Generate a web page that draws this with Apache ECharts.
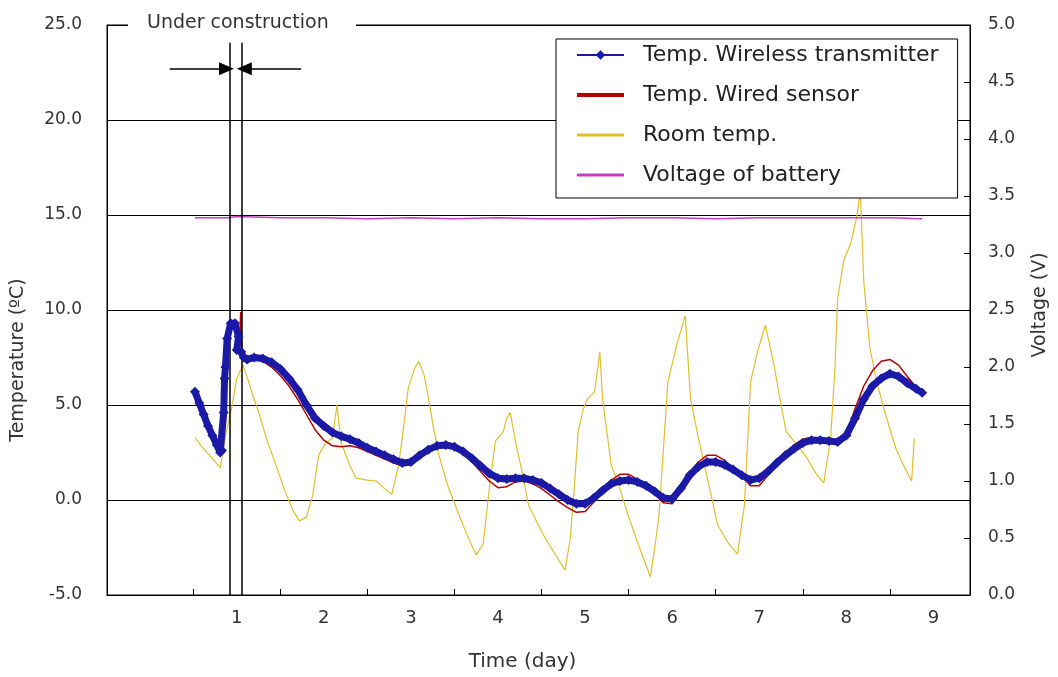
<!DOCTYPE html>
<html>
<head>
<meta charset="utf-8">
<script src="https://cdn.jsdelivr.net/npm/echarts@6/dist/echarts.min.js"></script>
<style>
  html, body { margin: 0; background: #fff; }
  #chart { width: 1058px; height: 677px; }
</style>
</head>
<body>
<div id="chart"></div>
<script>
// time in days, temperatures in ºC, voltage in V
const wirelessDays = [0.52, 0.57, 0.62, 0.67, 0.72, 0.77, 0.81, 0.83, 0.85, 0.86, 0.87, 0.89, 0.93, 0.98, 1.02, 1.0, 1.05, 1.08, 1.12,
  1.2, 1.3, 1.4, 1.5, 1.6, 1.7, 1.8, 1.9, 2.0, 2.1, 2.2, 2.3, 2.4, 2.5, 2.6, 2.7, 2.8, 2.9, 3.0, 3.1, 3.2, 3.3, 3.4, 3.5, 3.6, 3.7, 3.8, 3.9,
  4.0, 4.1, 4.2, 4.3, 4.4, 4.5, 4.6, 4.7, 4.8, 4.9, 5.0, 5.1, 5.2, 5.3, 5.4, 5.5, 5.6, 5.7, 5.8, 5.9,
  6.0, 6.1, 6.2, 6.3, 6.4, 6.5, 6.6, 6.7, 6.8, 6.9, 7.0, 7.1, 7.2, 7.3, 7.4, 7.5, 7.6, 7.7, 7.8, 7.9,
  8.0, 8.1, 8.2, 8.3, 8.4, 8.5, 8.6, 8.7, 8.8, 8.87];
const wirelessTemp = [5.7, 5.1, 4.5, 3.9, 3.4, 2.9, 2.5, 2.6, 4.6, 6.4, 7.0, 8.5, 9.3, 9.3, 8.6, 7.9, 7.8, 7.5, 7.4,
  7.5, 7.45, 7.25, 6.9, 6.4, 5.8, 5.0, 4.3, 3.9, 3.55, 3.35, 3.2, 3.0, 2.75, 2.55, 2.35, 2.15, 1.95, 2.0, 2.35, 2.65, 2.85, 2.9, 2.8, 2.55, 2.2, 1.8, 1.4,
  1.15, 1.1, 1.15, 1.15, 1.05, 0.9, 0.6, 0.3, 0.0, -0.2, -0.2, 0.1, 0.5, 0.85, 1.0, 1.05, 0.95, 0.75, 0.45, 0.1,
  0.05, 0.6, 1.3, 1.75, 2.0, 2.0, 1.85, 1.6, 1.3, 1.05, 1.15, 1.5, 1.95, 2.35, 2.7, 3.0, 3.15, 3.15, 3.1, 3.05,
  3.4, 4.3, 5.3, 6.0, 6.4, 6.65, 6.5, 6.15, 5.85, 5.65];

const wiredDays = [1.03, 1.045, 1.06, 1.1,
  1.2, 1.3, 1.4, 1.5, 1.6, 1.7, 1.8, 1.9, 2.0, 2.1, 2.2, 2.3, 2.4, 2.5, 2.6, 2.7, 2.8, 2.9, 3.0, 3.1, 3.2, 3.3, 3.4, 3.5, 3.6, 3.7, 3.8, 3.9,
  4.0, 4.1, 4.2, 4.3, 4.4, 4.5, 4.6, 4.7, 4.8, 4.9, 5.0, 5.1, 5.2, 5.3, 5.4, 5.5, 5.6, 5.7, 5.8, 5.9,
  6.0, 6.1, 6.2, 6.3, 6.4, 6.5, 6.6, 6.7, 6.8, 6.9, 7.0, 7.1, 7.2, 7.3, 7.4, 7.5, 7.6, 7.7, 7.8, 7.9,
  8.0, 8.1, 8.2, 8.3, 8.4, 8.5, 8.6, 8.7, 8.8, 8.87];
const wiredTemp = [7.6, 9.9, 7.5, 7.4,
  7.45, 7.3, 7.0, 6.55, 6.0, 5.3, 4.5, 3.7, 3.15, 2.85, 2.8, 2.85, 2.75, 2.55, 2.35, 2.15, 1.95, 1.8, 1.85, 2.25, 2.6, 2.85, 2.9, 2.8, 2.45, 2.0, 1.5, 1.0,
  0.65, 0.7, 0.95, 1.0, 0.85, 0.6, 0.25, -0.1, -0.4, -0.65, -0.6, -0.1, 0.5, 1.05, 1.35, 1.35, 1.1, 0.75, 0.3, -0.15,
  -0.2, 0.5, 1.4, 2.0, 2.35, 2.35, 2.1, 1.7, 1.25, 0.75, 0.75, 1.3, 1.95, 2.5, 2.9, 3.2, 3.3, 3.25, 3.15, 3.1,
  3.5, 4.8, 6.0, 6.8, 7.3, 7.4, 7.1, 6.5, 5.95, 5.7];

const roomDays = [0.52, 0.6, 0.7, 0.81, 0.88, 0.94, 1.0, 1.07, 1.11, 1.2, 1.26, 1.35, 1.45, 1.55, 1.65, 1.72, 1.8, 1.87, 1.94,
  2.02, 2.1, 2.15, 2.2, 2.3, 2.37, 2.5, 2.6, 2.7, 2.78, 2.86, 2.92, 2.97, 3.04, 3.09, 3.15, 3.2, 3.26, 3.32, 3.42, 3.55, 3.65, 3.75, 3.83, 3.91, 3.97,
  4.06, 4.1, 4.14, 4.2, 4.28, 4.35, 4.45, 4.54, 4.65, 4.77, 4.83, 4.88, 4.92, 4.98, 5.03, 5.11, 5.17, 5.2, 5.3, 5.4, 5.49, 5.6, 5.75, 5.8, 5.85, 5.95,
  6.06, 6.15, 6.21, 6.3, 6.37, 6.45, 6.52, 6.65, 6.75, 6.83, 6.9, 6.98, 7.07, 7.17, 7.25, 7.31, 7.45, 7.55, 7.65, 7.74, 7.82, 7.87, 7.9, 7.97,
  8.05, 8.12, 8.16, 8.2, 8.27, 8.35, 8.45, 8.57, 8.66, 8.75, 8.78];
const roomTemp = [3.3, 2.8, 2.3, 1.7, 3.6, 4.8, 6.4, 7.1, 6.6, 5.3, 4.5, 3.1, 1.85, 0.5, -0.6, -1.1, -0.9, 0.2, 2.35,
  3.0, 3.25, 5.0, 3.0, 1.8, 1.15, 1.05, 1.0, 0.6, 0.3, 1.85, 4.0, 5.9, 6.9, 7.3, 6.6, 5.4, 3.8, 2.4, 0.8, -0.75, -1.9, -2.9, -2.3, 1.0, 3.1,
  3.6, 4.3, 4.6, 3.1, 1.4, -0.25, -1.2, -2.0, -2.8, -3.7, -2.0, 0.9, 3.6, 4.8, 5.35, 5.7, 7.8, 5.35, 1.85, 0.6, -0.75, -2.2, -4.05, -2.5, -0.75, 6.2,
  8.3, 9.7, 5.35, 3.3, 1.85, 0.2, -1.3, -2.3, -2.85, -0.25, 6.2, 7.8, 9.2, 7.1, 5.0, 3.6, 2.8, 2.2, 1.4, 0.9, 3.25, 7.0, 10.6, 12.6,
  13.5, 14.9, 16.3, 11.5, 8.0, 6.2, 4.5, 2.7, 1.8, 1.0, 3.25];

const batteryDays = [0.52, 0.9, 1.0, 1.5, 2.0, 2.5, 3.0, 3.5, 4.0, 4.5, 5.0, 5.5, 6.0, 6.5, 7.0, 7.5, 8.0, 8.5, 8.87];
const batteryVolt = [3.31, 3.31, 3.32, 3.31, 3.31, 3.30, 3.31, 3.30, 3.31, 3.30, 3.30, 3.31, 3.31, 3.30, 3.31, 3.31, 3.31, 3.31, 3.30];

const seriesNames = ['Temp. Wireless transmitter', 'Temp. Wired sensor', 'Room temp.', 'Voltage of battery'];
const dayLabels = [1, 2, 3, 4, 5, 6, 7, 8, 9];
const dayTicks = [0.5, 1.5, 2.5, 3.5, 4.5, 5.5, 6.5, 7.5, 8.5];

// construction window and its arrows
const constructionWindow = [0.916, 1.053];
const arrowLeft = [0.23, 0.882];
const arrowRight = [1.739, 1.087];
const arrowTemp = 22.7;
const windowTop = 24.06;

const pairs = (xs, ys) => xs.map((x, i) => [x, ys[i]]);
const font = 'DejaVu Sans';

const chart = echarts.init(document.getElementById('chart'));

const blackLine = { color: '#000', width: 1.5, type: 'solid' };
const markData = [
  ...constructionWindow.map(d => [{ coord: [d, windowTop] }, { coord: [d, -5] }]),
  [{ coord: [arrowLeft[0], arrowTemp] }, { coord: [arrowLeft[1], arrowTemp], symbol: 'triangle', symbolSize: [13, 15] }],
  [{ coord: [arrowRight[0], arrowTemp] }, { coord: [arrowRight[1], arrowTemp], symbol: 'triangle', symbolSize: [13, 15] }]
];

chart.setOption({
  animation: false,
  backgroundColor: '#fff',
  textStyle: { fontFamily: font },
  grid: {
    left: 107, right: 84, top: 25, bottom: 80,
    show: true, borderColor: '#000', borderWidth: 1, backgroundColor: '#fff'
  },
  legend: {
    orient: 'vertical',
    left: 556, top: 39,
    padding: [5, 19, 12, 19],
    itemGap: 18,
    itemWidth: 47,
    itemHeight: 12,
    backgroundColor: '#fff',
    borderColor: '#000',
    borderWidth: 1,
    textStyle: { fontFamily: font, fontSize: 22, color: '#222', padding: [0, 0, 0, 14] },
    data: [
      { name: seriesNames[0], lineStyle: { width: 2 } },
      { name: seriesNames[1], lineStyle: { width: 4 }, itemStyle: { opacity: 0 } },
      { name: seriesNames[2], lineStyle: { width: 3 }, itemStyle: { opacity: 0 } },
      { name: seriesNames[3], lineStyle: { width: 3 }, itemStyle: { opacity: 0 } }
    ]
  },
  xAxis: {
    type: 'value',
    min: -0.49, max: 9.42,
    name: 'Time (day)',
    nameLocation: 'middle',
    nameGap: 57,
    nameTextStyle: { fontFamily: font, fontSize: 20, color: '#333', padding: [0, 32, 0, 0] },
    axisLine: { onZero: false, lineStyle: { color: '#000', width: 1 } },
    axisTick: { customValues: dayTicks, inside: true, length: 6, lineStyle: { color: '#000' } },
    axisLabel: { customValues: dayLabels, fontSize: 18, color: '#333', margin: 14, fontFamily: font },
    splitLine: { show: false }
  },
  yAxis: [
    {
      type: 'value',
      min: -5, max: 25, interval: 5,
      name: 'Temperature (ºC)',
      nameLocation: 'middle',
      nameRotate: 90,
      nameGap: 79,
      nameTextStyle: { fontFamily: font, fontSize: 19, color: '#333', padding: [0, 100, 0, 0] },
      axisLine: { show: true, onZero: false, lineStyle: { color: '#000' } },
      axisTick: { show: false },
      axisLabel: { formatter: v => v.toFixed(1), fontSize: 17, color: '#333', margin: 25, fontFamily: font },
      splitLine: { show: true, lineStyle: { color: '#000', width: 1.2 } }
    },
    {
      type: 'value',
      min: 0, max: 5, interval: 0.5,
      position: 'right',
      name: 'Voltage (V)',
      nameLocation: 'middle',
      nameRotate: 90,
      nameGap: 61,
      nameTextStyle: { fontFamily: font, fontSize: 19, color: '#333', padding: [0, 0, 0, 10] },
      axisLine: { show: true, onZero: false, lineStyle: { color: '#000' } },
      axisTick: { show: true, inside: true, length: 6, lineStyle: { color: '#000' } },
      axisLabel: { formatter: v => v.toFixed(1), fontSize: 17, color: '#333', margin: 18, fontFamily: font },
      splitLine: { show: false }
    }
  ],
  series: [
    {
      name: seriesNames[0],
      type: 'line',
      yAxisIndex: 0,
      z: 5,
      color: '#1a1aa6',
      data: pairs(wirelessDays, wirelessTemp),
      symbol: 'diamond',
      symbolSize: 10,
      showAllSymbol: true,
      lineStyle: { width: 7, color: '#1a1aa6' },
      itemStyle: { color: '#1a1aa6' },
      emphasis: { disabled: true }
    },
    {
      name: seriesNames[1],
      type: 'line',
      yAxisIndex: 0,
      z: 4,
      color: '#b00000',
      data: pairs(wiredDays, wiredTemp),
      symbol: 'none',
      lineStyle: { width: 1.5, color: '#b00000' },
      emphasis: { disabled: true }
    },
    {
      name: seriesNames[2],
      type: 'line',
      yAxisIndex: 0,
      z: 3,
      color: '#e2be2e',
      data: pairs(roomDays, roomTemp),
      symbol: 'none',
      lineStyle: { width: 1.2, color: '#e2be2e' },
      emphasis: { disabled: true },
      markLine: {
        silent: true,
        symbol: ['none', 'none'],
        label: { show: false },
        lineStyle: blackLine,
        emphasis: { disabled: true },
        data: markData
      }
    },
    {
      name: seriesNames[3],
      type: 'line',
      yAxisIndex: 1,
      z: 3,
      color: '#c040c0',
      data: pairs(batteryDays, batteryVolt),
      symbol: 'none',
      lineStyle: { width: 1.5, color: '#c040c0' },
      emphasis: { disabled: true }
    }
  ],
  graphic: [
    {
      type: 'rect',
      z: 100,
      shape: { x: 128, y: 15, width: 228, height: 20 },
      style: { fill: '#fff' }
    },
    {
      type: 'text',
      z: 101,
      x: 147, y: 23,
      style: { text: 'Under construction', font: '19px "DejaVu Sans"', fill: '#333', verticalAlign: 'middle' }
    }
  ]
});
</script>
</body>
</html>
